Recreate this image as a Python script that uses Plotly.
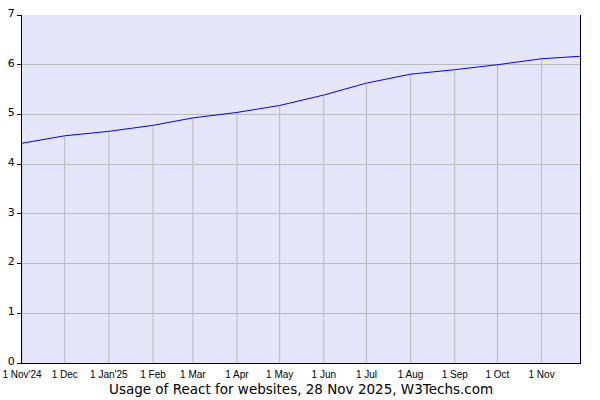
import plotly.graph_objects as go

# monthly usage share of React (% of all websites)
dates = ['2024-11-01', '2024-12-01', '2025-01-01', '2025-02-01', '2025-03-01', '2025-04-01',
         '2025-05-01', '2025-06-01', '2025-07-01', '2025-08-01', '2025-09-01', '2025-10-01',
         '2025-11-01', '2025-11-28']
usage = [4.42, 4.57, 4.66, 4.78, 4.93, 5.04, 5.18, 5.39, 5.63, 5.81, 5.90, 6.00, 6.12, 6.17]

tick_dates = dates[:-1]
tick_labels = ["1 Nov'24", '1 Dec', "1 Jan'25", '1 Feb', '1 Mar', '1 Apr', '1 May',
               '1 Jun', '1 Jul', '1 Aug', '1 Sep', '1 Oct', '1 Nov']

month_vals = usage[:-1]

fig = go.Figure()

# grey drop lines from each month point down to zero
fig.add_trace(go.Scatter(
    x=tick_dates, y=month_vals, mode='markers',
    marker=dict(size=1, color='rgba(0,0,0,0)'),
    error_y=dict(type='data', symmetric=False, array=[0] * len(month_vals),
                 arrayminus=month_vals, color='#bbbbbb', thickness=1, width=0),
    showlegend=False, hoverinfo='skip'
))

fig.add_trace(go.Scatter(
    x=dates, y=usage, mode='lines',
    line=dict(color='#0000ff', width=1),
    showlegend=False
))

fig.update_xaxes(
    range=['2024-11-01', '2025-11-28'],
    tickvals=tick_dates, ticktext=tick_labels,
    showgrid=False, zeroline=False, automargin=False,
    showline=True, linecolor='black', linewidth=1,
    ticks='', ticklabelstandoff=2,
    tickfont=dict(family='Liberation Sans', size=10, color='black'),
)
fig.update_yaxes(
    range=[0, 7], dtick=1, automargin=False,
    showgrid=True, gridcolor='#bbbbbb', gridwidth=1, zeroline=False,
    showline=True, linecolor='black', linewidth=1, mirror=True,
    ticks='outside', ticklen=4, tickcolor='black', ticklabelshift=-2,
    tickfont=dict(family='DejaVu Sans', size=11, color='black'),
)

fig.update_layout(
    width=600, height=400,
    margin=dict(l=22, r=20, t=15, b=37),
    plot_bgcolor='#e5e6f9',
    paper_bgcolor='white',
    showlegend=False,
)

fig.add_annotation(
    xref='paper', yref='paper', x=0.5, y=0, yshift=-16,
    text='Usage of React for websites, 28 Nov 2025, W3Techs.com',
    showarrow=False, xanchor='center', yanchor='top',
    font=dict(family='DejaVu Sans', size=13.5, color='black')
)

# page has a default 8px body margin; remove it so the chart sits at 0,0
fig.write_html("out.html", config={'displayModeBar': False},
               post_script="document.body.style.margin='0';")
